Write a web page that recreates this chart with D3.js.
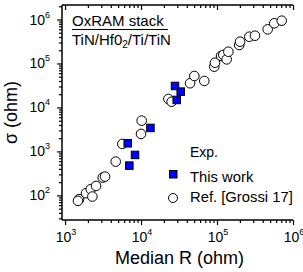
<!DOCTYPE html>
<html>
<head>
<meta charset="utf-8">
<script src="https://cdn.jsdelivr.net/npm/d3@7"></script>
<style>
  body { margin: 0; background: #fff; }
  svg { display: block; }
  text { font-family: "Liberation Sans", Arial, sans-serif; fill: #000; }
</style>
</head>
<body>
<div id="chart"></div>
<script>
// Ref. [Grossi 17] points: median R (ohm), sigma (ohm)
const refR = [1530, 1480, 1890, 2180, 2560, 2290, 3130, 3360, 4640, 5680, 10000, 10200,
  22900, 25300, 44200, 50300, 68000, 92000, 94000, 113000, 121000, 134000, 141000,
  196000, 201000, 266000, 316000, 464000, 567000, 710000];
const refSigma = [82, 75, 112, 138, 164, 94, 254, 267, 586, 1480, 2500, 5010,
  15600, 13500, 35500, 52000, 40000, 84500, 104000, 148000, 156000, 124000, 185000,
  263000, 313000, 406000, 428000, 598000, 820000, 940000];

// This work
const workR = [6680, 8340, 7020, 13300, 28000, 33300, 29500];
const workSigma = [1530, 832, 475, 3420, 30800, 22900, 14800];

const majorTicksX = [1e3, 1e4, 1e5, 1e6];
const majorTicksY = [1e2, 1e3, 1e4, 1e5, 1e6];
const expX = [3, 4, 5, 6];
const expY = [2, 3, 4, 5, 6];

const width = 303, height = 272;
const mLeft = 62, mRight = 293, mTop = 5, mBottom = 220;

const svg = d3.select("#chart").append("svg")
  .attr("width", width)
  .attr("height", height);

const x = d3.scaleLog().domain([Math.pow(10, 2.96), 1e6]).range([mLeft, mRight]);
const y = d3.scaleLog().domain([Math.pow(10, 1.44), Math.pow(10, 6.33)]).range([mBottom, mTop]);

// minor ticks 2..9 per decade, inside the domain
function minors(scale) {
  const [a, b] = scale.domain();
  const out = [];
  for (let e = Math.floor(Math.log10(a)); e <= Math.ceil(Math.log10(b)); e++) {
    for (let m = 2; m <= 9; m++) {
      const v = m * Math.pow(10, e);
      if (v >= a && v <= b) out.push(v);
    }
  }
  return out;
}

function axisStyle(g) {
  g.select(".domain").remove();
  g.selectAll("line").attr("stroke", "#000").attr("stroke-width", 1.2);
}

// left axis
svg.append("g").attr("transform", `translate(${mLeft},0)`)
  .call(d3.axisLeft(y).tickValues(minors(y)).tickSize(3).tickFormat(""))
  .call(axisStyle);
svg.append("g").attr("transform", `translate(${mLeft},0)`)
  .call(d3.axisLeft(y).tickValues(majorTicksY).tickSize(5).tickFormat(""))
  .call(axisStyle);

// bottom axis
svg.append("g").attr("transform", `translate(0,${mBottom})`)
  .call(d3.axisBottom(x).tickValues(minors(x)).tickSize(3).tickFormat(""))
  .call(axisStyle);
svg.append("g").attr("transform", `translate(0,${mBottom})`)
  .call(d3.axisBottom(x).tickValues(majorTicksX).tickSize(5).tickFormat(""))
  .call(axisStyle);

// top axis (ticks pointing inside)
svg.append("g").attr("transform", `translate(0,${mTop})`)
  .call(d3.axisBottom(x).tickValues(minors(x)).tickSize(3).tickFormat(""))
  .call(axisStyle);
svg.append("g").attr("transform", `translate(0,${mTop})`)
  .call(d3.axisBottom(x).tickValues(majorTicksX).tickSize(5).tickFormat(""))
  .call(axisStyle);

// frame lines (no right axis)
svg.append("line").attr("x1", mLeft).attr("x2", mLeft).attr("y1", mTop).attr("y2", mBottom)
  .attr("stroke", "#000").attr("stroke-width", 1.5);
svg.append("line").attr("x1", mLeft).attr("x2", mRight).attr("y1", mBottom).attr("y2", mBottom)
  .attr("stroke", "#000").attr("stroke-width", 1.5);
svg.append("line").attr("x1", mLeft).attr("x2", mRight).attr("y1", mTop).attr("y2", mTop)
  .attr("stroke", "#000").attr("stroke-width", 1.5);

// tick labels with superscripts
const yl = svg.append("g").selectAll("text").data(majorTicksY).join("text")
  .attr("x", 50)
  .attr("y", d => y(d) + 5)
  .attr("text-anchor", "end")
  .attr("font-size", 14);
yl.append("tspan").text("10");
yl.append("tspan").attr("font-size", 9).attr("dy", -7).text((d, i) => expY[i]);

const xl = svg.append("g").selectAll("text").data(majorTicksX).join("text")
  .attr("x", d => x(d) + 1)
  .attr("y", 242)
  .attr("text-anchor", "middle")
  .attr("font-size", 14);
xl.append("tspan").text("10");
xl.append("tspan").attr("font-size", 9).attr("dy", -7).text((d, i) => expX[i]);

// axis titles
svg.append("text")
  .attr("x", (mLeft + mRight) / 2 + 2)
  .attr("y", 264)
  .attr("text-anchor", "middle")
  .attr("font-size", 18)
  .text("Median R (ohm)");

svg.append("text")
  .attr("transform", `translate(17,${(mTop + mBottom) / 2}) rotate(-90)`)
  .attr("text-anchor", "middle")
  .attr("font-size", 18)
  .text("σ (ohm)");

// annotation
svg.append("text").attr("x", 72).attr("y", 26).attr("font-size", 15).text("OxRAM stack");
svg.append("line").attr("x1", 72).attr("x2", 168).attr("y1", 29.5).attr("y2", 29.5)
  .attr("stroke", "#000").attr("stroke-width", 1);
const stack = svg.append("text").attr("x", 72).attr("y", 45).attr("font-size", 15);
stack.append("tspan").text("TiN/Hf0");
stack.append("tspan").attr("font-size", 10).attr("dy", 3).text("2");
stack.append("tspan").attr("dy", -3).text("/Ti/TiN");

// points
const refData = refR.map((r, i) => ({ r, s: refSigma[i] }));
const workData = workR.map((r, i) => ({ r, s: workSigma[i] }));

svg.append("g").selectAll("circle").data(refData).join("circle")
  .attr("cx", d => x(d.r))
  .attr("cy", d => y(d.s))
  .attr("r", 4.8)
  .attr("fill", "#fff")
  .attr("stroke", "#000")
  .attr("stroke-width", 1);

const sq = 7.5;
svg.append("g").selectAll("rect").data(workData).join("rect")
  .attr("x", d => x(d.r) - sq / 2)
  .attr("y", d => y(d.s) - sq / 2)
  .attr("width", sq)
  .attr("height", sq)
  .attr("fill", "#0000ff")
  .attr("stroke", "#000")
  .attr("stroke-width", 1);

// legend
svg.append("text").attr("x", 190).attr("y", 157).attr("font-size", 14).text("Exp.");
svg.append("rect").attr("x", 169.5).attr("y", 170.5).attr("width", 7.5).attr("height", 7.5)
  .attr("fill", "#0000ff").attr("stroke", "#000").attr("stroke-width", 1);
svg.append("text").attr("x", 190).attr("y", 182).attr("font-size", 14.8).text("This work");
svg.append("circle").attr("cx", 173).attr("cy", 198).attr("r", 4.5)
  .attr("fill", "#fff").attr("stroke", "#000").attr("stroke-width", 1);
svg.append("text").attr("x", 190).attr("y", 202).attr("font-size", 14.8).text("Ref. [Grossi 17]");
</script>
</body>
</html>
